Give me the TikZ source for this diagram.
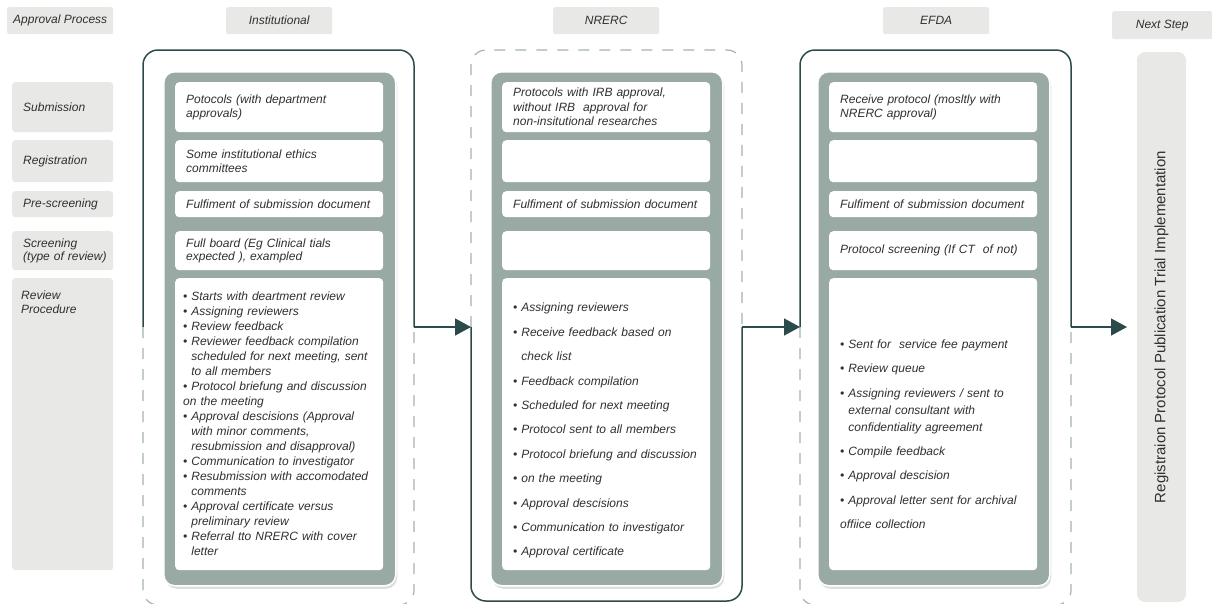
\documentclass[tikz,border=0pt]{standalone}
\usepackage{fontspec}
\setmainfont{Liberation Sans}
\usetikzlibrary{arrows.meta,shadows}

\definecolor{labelgray}{HTML}{E8E9E7}
\definecolor{sage}{HTML}{98AAA3}
\definecolor{darkteal}{HTML}{2B4A4A}
\definecolor{dashgray}{HTML}{A3B3AD}
\definecolor{inktext}{HTML}{303030}

\newcommand\pbul{\textbullet\ }
\newcommand\pind{\hphantom{\textbullet\ }}

\begin{document}
\begin{tikzpicture}[x=1pt,y=-1pt,
  font=\fontsize{12}{13.5}\selectfont\itshape, text=inktext,
  every node/.style={anchor=north west, inner ysep=0pt},
  head/.style={fill=labelgray, rounded corners=2pt, minimum width=106pt,
    minimum height=27pt, inner xsep=0pt, align=center},
  rowlabel/.style={fill=labelgray, rounded corners=3pt, text width=79pt,
    inner xsep=11pt, align=left},
  cell/.style={fill=white, rounded corners=4pt, text width=186pt,
    inner xsep=11pt, align=left},
  listtext/.style={anchor=center, text width=186pt, inner xsep=11pt, align=left},
  panel/.style={fill=sage, draw=white, line width=1.5pt, rounded corners=11pt,
    minimum width=232pt, minimum height=514pt,
    drop shadow={opacity=0.25, shadow xshift=1.5pt, shadow yshift=-3pt}},
  solidframe/.style={draw=darkteal, line width=1.5pt, rounded corners=15pt},
  dashframe/.style={draw=dashgray, line width=1.2pt,
    dash pattern=on 11pt off 10pt, rounded corners=15pt},
  flow/.style={draw=darkteal, line width=1.5pt,
    -{Triangle[length=16pt,width=17pt]}}]
\useasboundingbox (0,0) rectangle (1212,603);

% headers
\node[head] (hproc) at (7,7) {Approval Process};
\node[head] (hinst) at (226,7) {Institutional};
\node[head] (hnrerc) at (553,7) {NRERC};
\node[head] (hefda) at (883,7) {EFDA};
\node[head, minimum width=100pt, minimum height=28pt] (hnext) at (1112,11) {Next Step};

% row labels
\node[rowlabel, minimum height=50pt] (lsub) at (12,82) {Submission};
\node[rowlabel, minimum height=42pt] (lreg) at (12,140) {Registration};
\node[rowlabel, minimum height=26pt] (lpre) at (12,191) {Pre-screening};
\node[rowlabel, minimum height=39pt] (lscr) at (12,231) {Screening\\\mbox{(type of review)}};
\node[rowlabel, minimum height=292pt] (lrev) at (12,278) {};
\node[align=left, inner xsep=0pt] (lrevtext) at (21,291) {Review\\Procedure};

% outer frames
\draw[solidframe] (143,327) |- (414,50) -- (414,327);
\draw[dashframe] (143,327) |- (414,605) -- (414,327);
\draw[dashframe] (471,327) |- (742,50) -- (742,327);
\draw[solidframe] (471,327) |- (742,601) -- (742,327);
\draw[solidframe] (800,327) |- (1071,50) -- (1071,327);
\draw[dashframe] (800,327) |- (1071,605) -- (1071,327);

% Institutional
\node[panel] (instpanel) at (163,71) {};
\node[cell, minimum height=50pt] (inst1) at (175,82) {Potocols (with department\\approvals)};
\node[cell, minimum height=42pt] (inst2) at (175,140) {Some institutional ethics\\committees};
\node[cell, minimum height=26pt] (inst3) at (175,191) {Fulfiment of submission document};
\node[cell, minimum height=39pt] (inst4) at (175,231) {Full board (Eg Clinical tials\\expected ), exampled};
\node[cell, minimum height=292pt, text width=192pt, inner xsep=8pt,
  font=\fontsize{12}{15}\selectfont\itshape] (inst5) at (175,278) {%
  \pbul Starts with deartment review\\
  \pbul Assigning reviewers\\
  \pbul Review feedback\\
  \pbul Reviewer feedback compilation\\
  \pind scheduled for next meeting, sent\\
  \pind to all members\\
  \pbul Protocol briefung and discussion\\
  on the meeting\\
  \pbul Approval descisions (Approval\\
  \pind with minor comments,\\
  \pind resubmission and disapproval)\\
  \pbul Communication to investigator\\
  \pbul Resubmission with accomodated\\
  \pind comments\\
  \pbul Approval certificate versus\\
  \pind preliminary review\\
  \pbul Referral tto NRERC with cover\\
  \pind letter};

% NRERC
\node[panel] (nrercpanel) at (490,71) {};
\node[cell, minimum height=50pt, font=\fontsize{12}{14.5}\selectfont\itshape] (nrerc1) at (502,82)
  {Protocols with IRB approval,\\without IRB\ \ approval for\\non-insitutional researches};
\node[cell, minimum height=42pt] (nrerc2) at (502,140) {};
\node[cell, minimum height=26pt] (nrerc3) at (502,191) {Fulfiment of submission document};
\node[cell, minimum height=39pt] (nrerc4) at (502,231) {};
\node[cell, minimum height=292pt] (nrerc5) at (502,278) {};
\node[listtext, yshift=-6.5pt, font=\fontsize{12}{24.4}\selectfont\itshape]
  (nrerc5text) at (nrerc5.center) {%
  \pbul Assigning reviewers\\
  \pbul Receive feedback based on\\
  \pind check list\\
  \pbul Feedback compilation\\
  \pbul Scheduled for next meeting\\
  \pbul Protocol sent to all members\\
  \pbul Protocol briefung and discussion\\
  \pbul on the meeting\\
  \pbul Approval descisions\\
  \pbul Communication to investigator\\
  \pbul Approval certificate};

% EFDA
\node[panel] (efdapanel) at (817,71) {};
\node[cell, minimum height=50pt] (efda1) at (829,82) {Receive protocol (mosltly with\\NRERC approval)};
\node[cell, minimum height=42pt] (efda2) at (829,140) {};
\node[cell, minimum height=26pt] (efda3) at (829,191) {Fulfiment of submission document};
\node[cell, minimum height=39pt] (efda4) at (829,231) {Protocol screening (If CT\ \ of not)};
\node[cell, minimum height=292pt] (efda5) at (829,278) {};
\node[listtext, yshift=-10pt, font=\fontsize{12}{17}\selectfont\itshape]
  (efda5text) at (efda5.center) {%
  \pbul Sent for\ \ service fee payment\\[7.4pt]
  \pbul Review queue\\[7.4pt]
  \pbul Assigning reviewers / sent to\\
  \pind external consultant with\\
  \pind confidentiality agreement\\[7.4pt]
  \pbul Compile feedback\\[7.4pt]
  \pbul Approval descision\\[7.4pt]
  \pbul Approval letter sent for archival\\[7.4pt]
  offiice collection};

% next step
\node[fill=labelgray, rounded corners=8pt, rotate=90, anchor=center,
  minimum width=550pt, minimum height=49pt, inner xsep=0pt,
  font=\fontsize{15}{16}\selectfont\upshape] (next) at (1161.5,327)
  {Registraion Protocol Publication Trial Implementation};

% flow between stages
\coordinate (instout) at (414,327);
\coordinate (nrercin) at (471,327);
\coordinate (nrercout) at (742,327);
\coordinate (efdain) at (800,327);
\coordinate (efdaout) at (1071,327);
\coordinate (nextin) at (1127,327);
\draw[flow] (instout) -- (nrercin);
\draw[flow] (nrercout) -- (efdain);
\draw[flow] (efdaout) -- (nextin);
\end{tikzpicture}
\end{document}
